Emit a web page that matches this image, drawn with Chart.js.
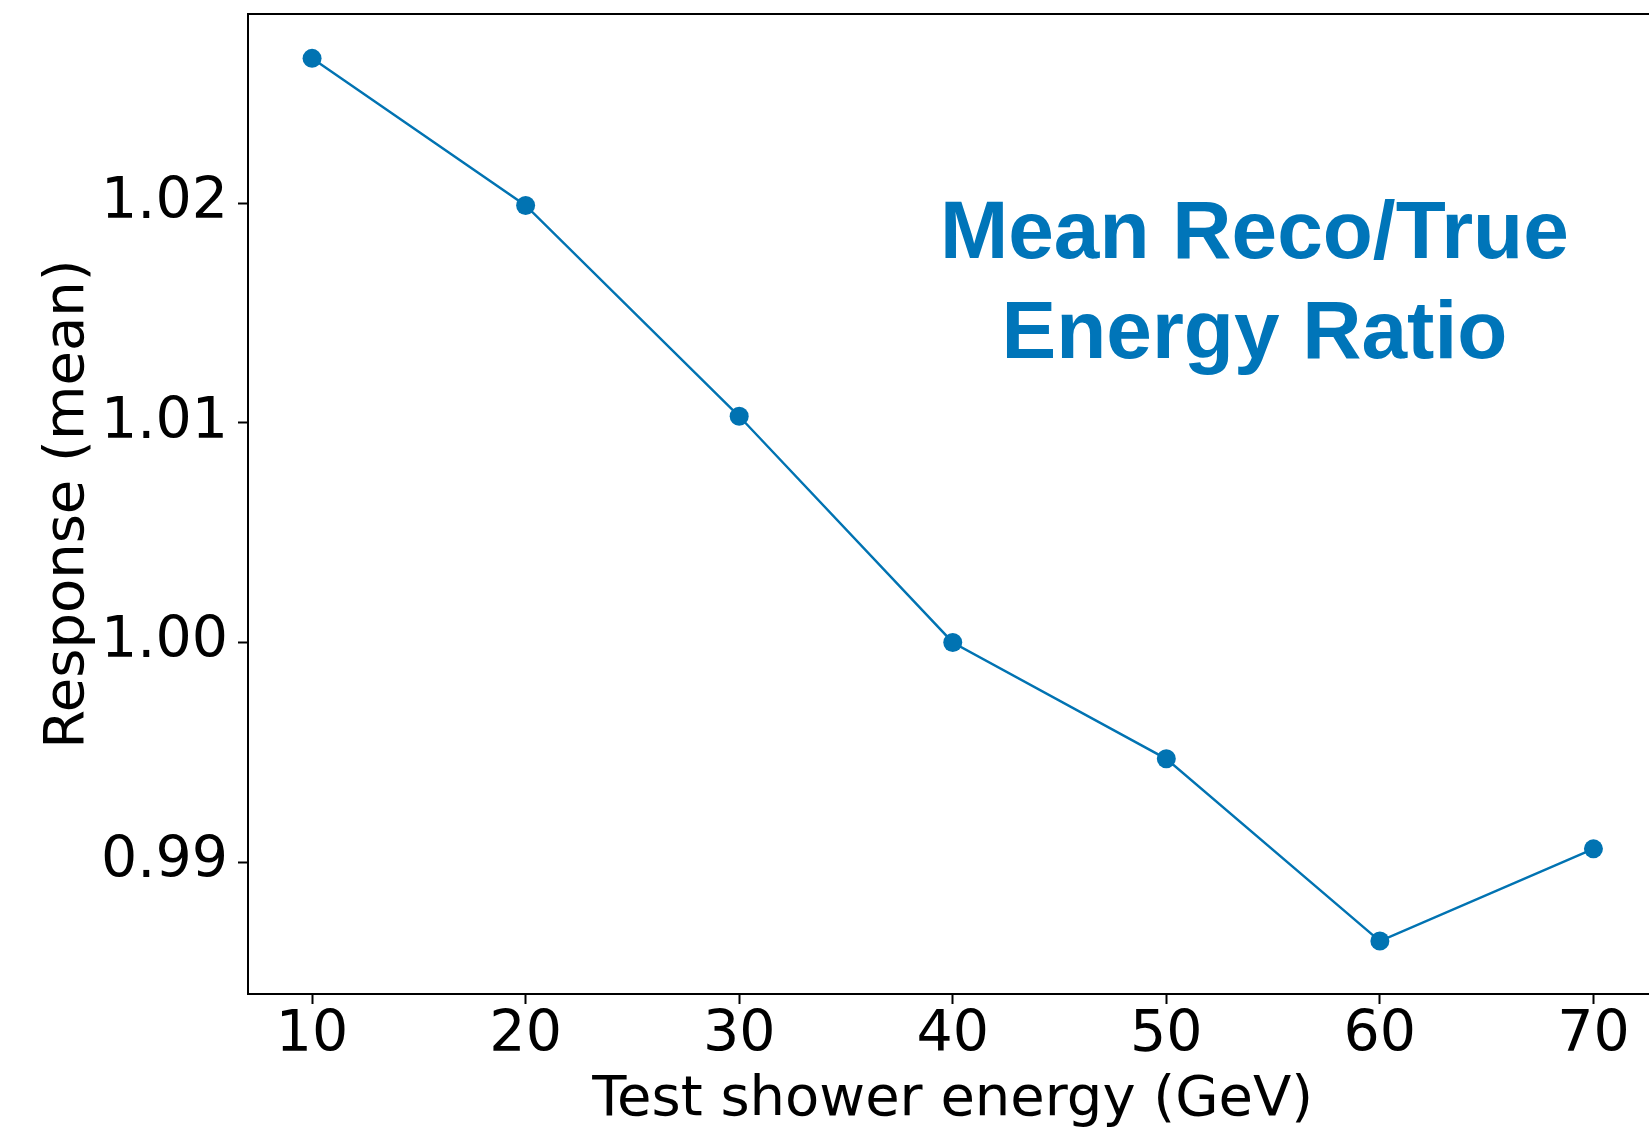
<!DOCTYPE html>
<html>
<head>
<meta charset="utf-8">
<title>Mean Reco/True Energy Ratio</title>
<script src="https://cdn.jsdelivr.net/npm/chart.js@4.4.1/dist/chart.umd.min.js"></script>
<style>
    html, body { margin: 0; padding: 0; background: #fff; overflow: hidden; }
    #wrap { width: 1667px; height: 1131px; }
</style>
</head>
<body>
<div id="wrap"><canvas id="chart" width="1667" height="1131"></canvas></div>
<script>
// Data
const energies = [10, 20, 30, 40, 50, 60, 70];
const responseMean = [1.0266, 1.0199, 1.0103, 1.0000, 0.9947, 0.9864, 0.9906];
const xTicks = [10, 20, 30, 40, 50, 60, 70];
const yTicks = [0.99, 1.00, 1.01, 1.02];
const xLimits = [7, 73];
const yLimits = [0.98399, 1.02862];
const annotationLines = ['Mean Reco/True', 'Energy Ratio'];

const blue = '#0173b2';
const textBlue = '#0075b9';
const tickFont = { family: 'DejaVu Sans', size: 57 };
const titleFont = { family: 'DejaVu Sans', size: 56 };

// Draws the big blue label inside the axes
const annotationPlugin = {
    id: 'annotation',
    afterDraw(chart) {
        const { ctx, chartArea } = chart;
        const w = chartArea.right - chartArea.left;
        const h = chartArea.bottom - chartArea.top;
        ctx.save();
        ctx.font = 'bold 82px "Liberation Sans", Arial, sans-serif';
        ctx.fillStyle = textBlue;
        ctx.textAlign = 'center';
        ctx.textBaseline = 'alphabetic';
        const cx = chartArea.left + 0.714 * w;
        const y0 = chartArea.top + 0.2493 * h;
        annotationLines.forEach((line, i) => ctx.fillText(line, cx, y0 + i * 99.3));
        ctx.restore();
    }
};

new Chart(document.getElementById('chart'), {
    type: 'line',
    data: {
        datasets: [{
            data: energies.map((e, i) => ({ x: e, y: responseMean[i] })),
            borderColor: blue,
            backgroundColor: blue,
            borderWidth: 2.4,
            pointRadius: 9.5,
            pointBorderWidth: 0,
            pointBackgroundColor: blue,
            tension: 0,
            fill: false
        }]
    },
    options: {
        responsive: false,
        animation: false,
        devicePixelRatio: 1,
        layout: { padding: { left: 0, top: 14, right: 5, bottom: 0 } },
        plugins: {
            legend: { display: false },
            tooltip: { enabled: false }
        },
        scales: {
            x: {
                type: 'linear',
                position: 'bottom',
                min: xLimits[0],
                max: xLimits[1],
                afterBuildTicks: (scale) => { scale.ticks = xTicks.map(v => ({ value: v })); },
                afterFit: (scale) => {
                    scale.height = 137;
                    scale.paddingLeft = 0;
                    scale.paddingRight = 0;
                },
                grid: { drawOnChartArea: false, tickLength: 10, tickWidth: 2, tickColor: '#000' },
                border: { display: true, color: '#000', width: 2 },
                ticks: { color: '#000', font: tickFont, padding: -2, maxRotation: 0 },
                title: {
                    display: true,
                    text: 'Test shower energy (GeV)',
                    color: '#000',
                    font: titleFont,
                    padding: { top: 0, bottom: -3 }
                }
            },
            xTop: {
                type: 'linear',
                position: 'top',
                min: xLimits[0],
                max: xLimits[1],
                afterFit: (scale) => {
                    scale.height = 0;
                    scale.paddingLeft = 0;
                    scale.paddingRight = 0;
                },
                grid: { drawOnChartArea: false, drawTicks: false },
                border: { display: true, color: '#000', width: 2 },
                ticks: { display: false }
            },
            y: {
                type: 'linear',
                position: 'left',
                min: yLimits[0],
                max: yLimits[1],
                afterBuildTicks: (scale) => { scale.ticks = yTicks.map(v => ({ value: v })); },
                afterFit: (scale) => {
                    scale.width = 248;
                    scale.paddingTop = 0;
                    scale.paddingBottom = 0;
                },
                grid: { drawOnChartArea: false, tickLength: 10, tickWidth: 2, tickColor: '#000' },
                border: { display: true, color: '#000', width: 2 },
                ticks: {
                    color: '#000',
                    font: tickFont,
                    padding: 10,
                    callback: (v) => v.toFixed(2)
                },
                title: {
                    display: true,
                    text: 'Response (mean)',
                    color: '#000',
                    font: titleFont,
                    padding: { top: 35, bottom: 0 }
                }
            }
        }
    },
    plugins: [annotationPlugin]
});
</script>
</body>
</html>
